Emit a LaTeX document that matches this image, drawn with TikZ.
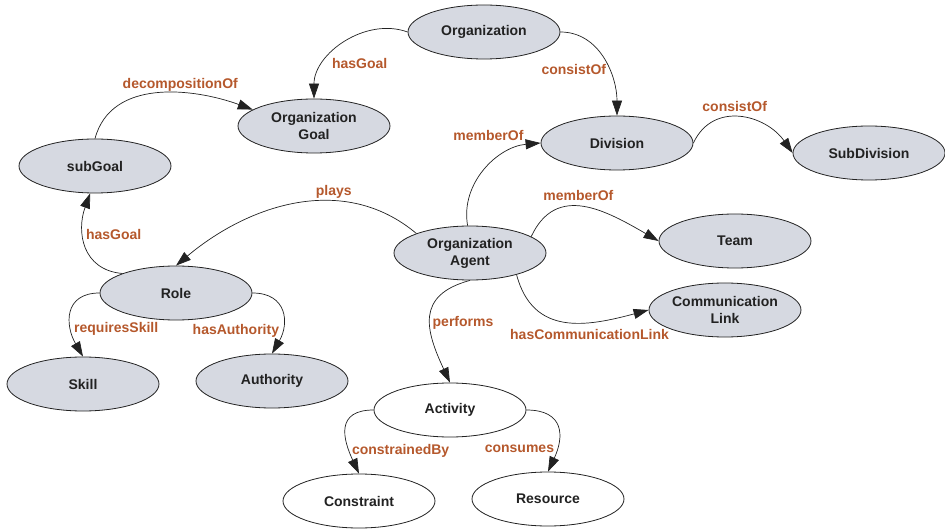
\documentclass[tikz,border=0pt]{standalone}
\usepackage{fontspec}
\setmainfont{Liberation Sans}
\usepackage{xcolor}
\usetikzlibrary{shapes.geometric, arrows.meta, positioning}
\definecolor{conceptfill}{RGB}{214,217,225}
\definecolor{conceptline}{RGB}{34,34,34}
\definecolor{relcolor}{RGB}{181,88,44}
\tikzstyle{concept} = [ellipse, minimum width=152pt, minimum height=54pt, inner sep=0pt, align=center, draw=conceptline, fill=conceptfill, line width=0.8pt, text=conceptline, font=\fontsize{14}{17}\selectfont\bfseries]
\tikzstyle{instance} = [concept, fill=white]
\tikzstyle{relation} = [line width=0.7pt, ->, >={Triangle[length=15pt,width=10pt]}, draw=conceptline]
\tikzstyle{rlabel} = [text=relcolor, inner sep=2pt, font=\fontsize{14}{17}\selectfont\bfseries]

\begin{document}
\begin{tikzpicture}[on grid]
    \useasboundingbox (0,0) rectangle (945pt,-529pt);
    \node (org) [concept] at (484pt,-32pt) {Organization};
    \node (goal) [concept, below left=94pt and 170pt of org] {Organization\\Goal};
    \node (division) [concept, below right=111pt and 133pt of org] {Division};
    \node (subdiv) [concept, below right=10pt and 252pt of division] {SubDivision};
    \node (agent) [concept, below left=110pt and 147pt of division] {Organization\\Agent};
    \node (team) [concept, above right=12pt and 265pt of agent] {Team};
    \node (link) [concept, below right=57pt and 255pt of agent] {Communication\\Link};
    \node (role) [concept, below left=40pt and 294pt of agent] {Role};
    \node (subgoal) [concept, above left=127pt and 81pt of role] {subGoal};
    \node (skill) [concept, below left=91pt and 93pt of role] {Skill};
    \node (authority) [concept, below right=88pt and 96pt of role] {Authority};
    \node (activity) [instance, below left=157pt and 20pt of agent] {Activity};
    \node (constraint) [instance, below left=91pt and 91pt of activity] {Constraint};
    \node (resource) [instance, below right=89pt and 98pt of activity] {Resource};

    \draw [relation] (org.west) to[out=160,in=90] node[rlabel, pos=.72, right=5pt] {hasGoal} (goal.north);
    \draw [relation] (subgoal.north) to[out=75,in=160] node[rlabel, pos=.62, above] {decompositionOf} (goal.165);
    \draw [relation] (role.160) to[out=175,in=-110,looseness=1.2] node[rlabel, pos=.62, right] {hasGoal} (subgoal.-100);
    \draw [relation] (agent.160) to[out=140,in=40] node[rlabel, pos=.35, above] {plays} (role.north);
    \draw [relation] (agent.95) to[out=100,in=185] node[rlabel, pos=.9, above left=3pt] {memberOf} (division.west);
    \draw [relation] (org.east) to[out=0,in=90] node[rlabel, pos=.6, left=0pt] {consistOf} (division.north);
    \draw [relation] (division.east) to[out=65,in=125,looseness=1.2] node[rlabel, pos=.45, above=3pt] {consistOf} (subdiv.west);
    \draw [relation] (agent.15) to[out=65,in=150,looseness=1.2] node[rlabel, pos=.45, above=3pt] {memberOf} (team.west);
    \draw [relation] (agent.-25) to[out=-75,in=195,looseness=1.2] node[rlabel, pos=.66, below=5pt] {hasCommunicationLink} (link.west);
    \draw [relation] (agent.south) to[out=195,in=115,looseness=1.4] node[rlabel, pos=.55, right] {performs} (activity.north);
    \draw [relation] (role.west) to[out=180,in=120,looseness=1.4] node[rlabel, pos=.7, right] {requiresSkill} (skill.north);
    \draw [relation] (role.east) to[out=0,in=60,looseness=1.4] node[rlabel, pos=.74, left] {hasAuthority} (authority.north);
    \draw [relation] (activity.west) to[out=180,in=115,looseness=1.5] node[rlabel, pos=.77, right] {constrainedBy} (constraint.north);
    \draw [relation] (activity.east) to[out=0,in=65,looseness=1.5] node[rlabel, pos=.77, left] {consumes} (resource.north);
\end{tikzpicture}
\end{document}
